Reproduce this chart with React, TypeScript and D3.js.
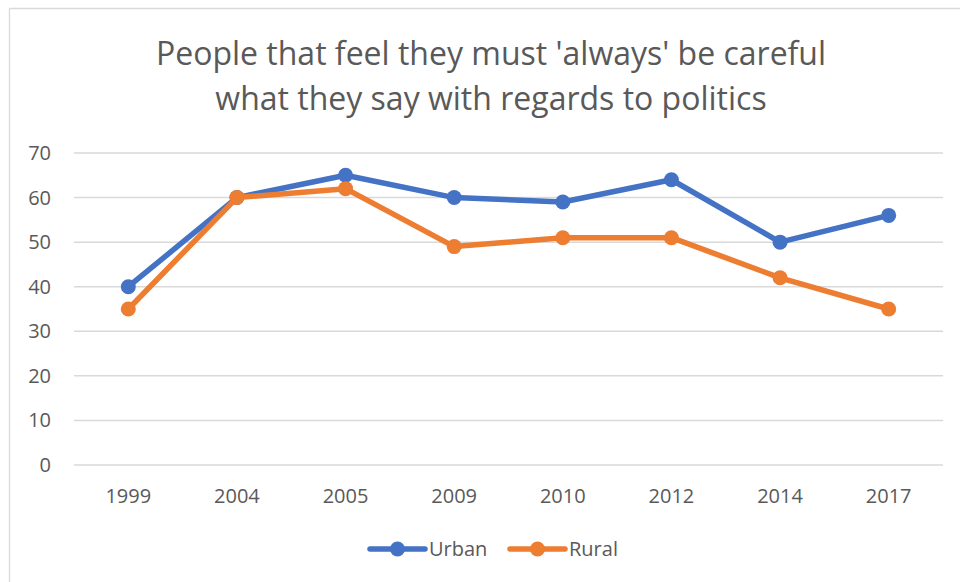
import React from "react";
import * as d3 from "d3";

const years = ["1999", "2004", "2005", "2009", "2010", "2012", "2014", "2017"];
const urban = [40, 60, 65, 60, 59, 64, 50, 56];
const rural = [35, 60, 62, 49, 51, 51, 42, 35];
const yTicks = [0, 10, 20, 30, 40, 50, 60, 70];
const titleLines = [
  "People that feel they must 'always' be careful",
  "what they say with regards to politics",
];

const W = 960;
const H = 582;
const FONT = "'Open Sans', 'Liberation Sans', sans-serif";
const TEXT = "#595959";

export default function App() {
  const x = d3.scaleBand<string>().domain(years).range([74, 943]).padding(0);
  const y = d3.scaleLinear().domain([0, 70]).range([465, 153]);
  const cx = (d: string) => (x(d) ?? 0) + x.bandwidth() / 2;
  const line = d3
    .line<number>()
    .x((_, i) => cx(years[i]))
    .y((v) => y(v));

  const series = [
    { name: "Urban", values: urban, color: "#4472C4" },
    { name: "Rural", values: rural, color: "#ED7D31" },
  ];

  return (
    <svg
      width={W}
      height={H}
      style={{ position: "absolute", left: 0, top: 0, background: "#fff" }}
    >
      <rect x={0} y={0} width={W} height={H} fill="#fff" />
      <line x1={9.5} y1={8.5} x2={W} y2={8.5} stroke="#d9d9d9" strokeWidth={1.3} />
      <line x1={9.5} y1={8.5} x2={9.5} y2={H} stroke="#d9d9d9" strokeWidth={1.3} />

      {titleLines.map((t, i) => (
        <text
          key={i}
          x={491}
          y={65 + i * 45}
          textAnchor="middle"
          fontFamily={FONT}
          fontSize={32}
          fill={TEXT}
        >
          {t}
        </text>
      ))}

      {yTicks.map((t) => (
        <g key={t}>
          <line
            x1={74}
            x2={943}
            y1={y(t)}
            y2={y(t)}
            stroke="#d9d9d9"
            strokeWidth={1.5}
          />
          <text
            x={51}
            y={y(t)}
            dy="0.35em"
            textAnchor="end"
            fontFamily={FONT}
            fontSize={20}
            fill={TEXT}
          >
            {t}
          </text>
        </g>
      ))}

      {years.map((yr) => (
        <text
          key={yr}
          x={cx(yr)}
          y={496}
          dy="0.35em"
          textAnchor="middle"
          fontFamily={FONT}
          fontSize={20}
          fill={TEXT}
        >
          {yr}
        </text>
      ))}

      {series.map((s) => (
        <g key={s.name}>
          <path
            d={line(s.values) ?? ""}
            fill="none"
            stroke={s.color}
            strokeWidth={5.5}
            strokeLinejoin="round"
            strokeLinecap="round"
          />
          {s.values.map((v, i) => (
            <circle key={i} cx={cx(years[i])} cy={y(v)} r={7.5} fill={s.color} />
          ))}
        </g>
      ))}

      {series.map((s, i) => {
        const lx = 370 + i * 140;
        return (
          <g key={s.name}>
            <line
              x1={lx}
              x2={lx + 55}
              y1={549}
              y2={549}
              stroke={s.color}
              strokeWidth={5.5}
              strokeLinecap="round"
            />
            <circle cx={lx + 27.5} cy={549} r={7.5} fill={s.color} />
            <text
              x={lx + 59}
              y={549}
              dy="0.35em"
              fontFamily={FONT}
              fontSize={20}
              fill={TEXT}
            >
              {s.name}
            </text>
          </g>
        );
      })}
    </svg>
  );
}
